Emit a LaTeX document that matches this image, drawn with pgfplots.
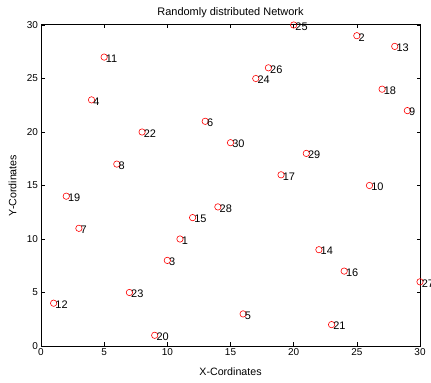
\documentclass[border=0pt]{standalone}
\usepackage{pgfplots}
\pgfplotsset{compat=1.18}
\usepackage{fontspec}
\setmainfont{Liberation Sans}
\begin{document}
\begin{tikzpicture}
\begin{axis}[
  anchor=south west, at={(0,0)},
  scale only axis, width=379bp, height=321bp,
  xmin=0, xmax=30, ymin=0, ymax=30,
  xtick={0,5,...,30}, ytick={0,5,...,30},
  tick align=inside, tick pos=both,
  major tick length=3.5bp,
  axis line style={black, line width=1bp},
  tick style={black, line width=0.6bp},
  /pgf/number format/assume math mode=true,
  tick label style={font=\fontsize{10}{11}\selectfont},
  xticklabel style={yshift=1bp},
  yticklabel style={xshift=0.5bp},
  title={Randomly distributed Network},
  title style={font=\fontsize{11}{12}\selectfont, at={(axis description cs:0.5,1.021)}, anchor=center, yshift=0pt},
  xlabel={X-Cordinates}, ylabel={Y-Cordinates},
  label style={font=\fontsize{10.7}{12}\selectfont},
  xlabel style={at={(axis description cs:0.5,-0.081)}, anchor=center},
  ylabel style={at={(axis description cs:-0.0752,0.5)}, anchor=center},
  clip=false,
]
\addplot[only marks, mark=o, mark size=3.2bp, red, line width=0.6pt,
  nodes near coords, point meta=explicit symbolic,
  every node near coord/.style={anchor=west, inner sep=0pt, xshift=1.5bp, yshift=-1.5bp, black, overlay, font=\fontsize{11}{12}\selectfont}]
table[meta=lab] {
x y lab
11 10 1
25 29 2
10 8 3
4 23 4
16 3 5
13 21 6
3 11 7
6 17 8
29 22 9
26 15 10
5 27 11
1 4 12
28 28 13
22 9 14
12 12 15
24 7 16
19 16 17
27 24 18
2 14 19
9 1 20
23 2 21
8 20 22
7 5 23
17 25 24
20 30 25
18 26 26
30 6 27
14 13 28
21 18 29
15 19 30
};
\end{axis}
\pgfresetboundingbox
\path (-41bp,-37bp) rectangle (390bp,346bp);
\end{tikzpicture}
\end{document}
